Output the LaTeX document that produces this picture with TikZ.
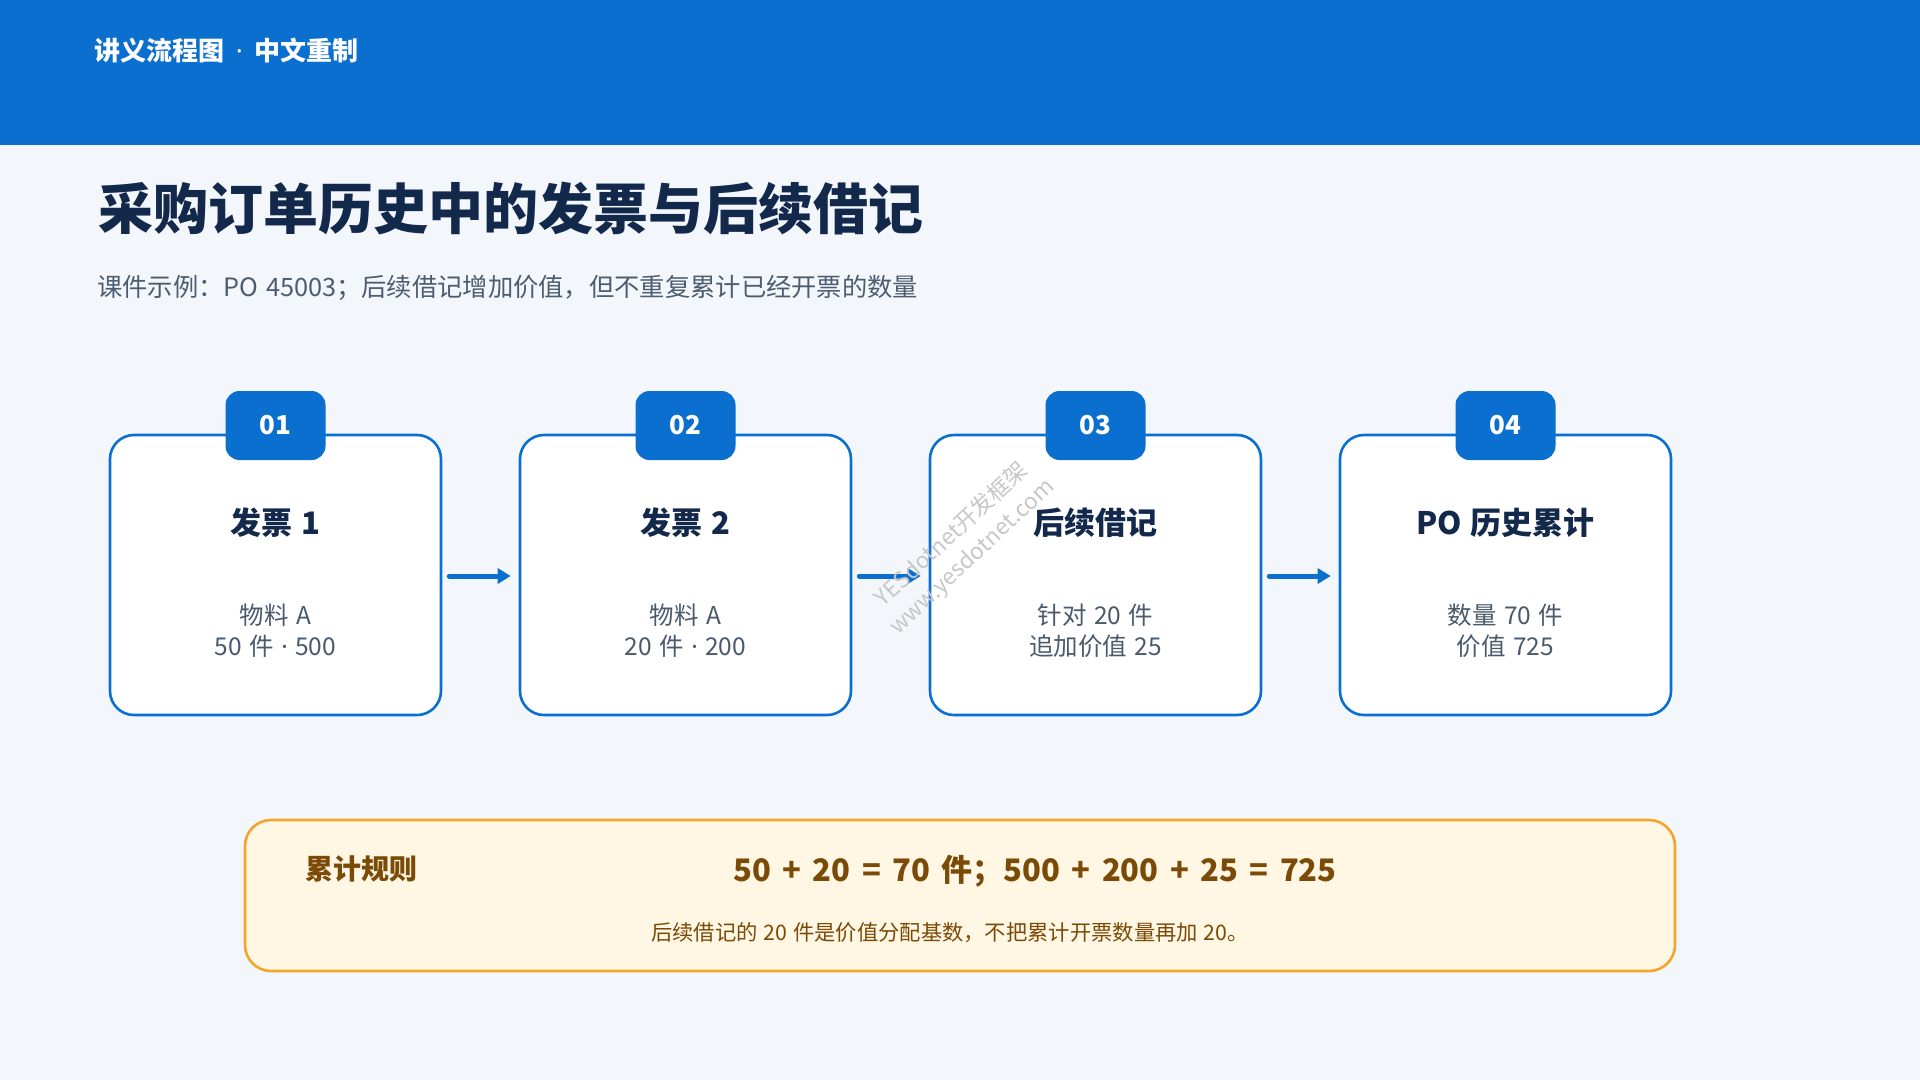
\documentclass[tikz,border=0pt]{standalone}
\usepackage{fontspec}
\setmainfont{Noto Sans CJK SC}
\newfontfamily\latinf{Noto Sans}
\usetikzlibrary{arrows.meta}
\definecolor{hdr}{HTML}{0B6FD0}
\definecolor{bgc}{HTML}{F3F6FB}
\definecolor{navy}{HTML}{13294B}
\definecolor{subc}{HTML}{4D5D70}
\definecolor{bodyc}{HTML}{4A5A6C}
\definecolor{notefill}{HTML}{FFF6E3}
\definecolor{noteedge}{HTML}{F3A62B}
\definecolor{brownc}{HTML}{7A4A06}
\newcommand{\fs}[1]{\fontsize{#1}{40}\selectfont}
\newcommand{\sps}[1]{\spaceskip=#1\relax}
\newcommand{\mdot}{{\latinf ·}}
\tikzset{
  card/.style={draw=hdr, line width=2.6pt, fill=white, rounded corners=24pt,
    minimum width=331pt, minimum height=280pt, inner sep=0pt},
  badge/.style={fill=hdr, rounded corners=14pt, minimum width=100pt,
    minimum height=69pt, inner sep=0pt, text=white, font=\fs{26}\bfseries},
  ctitle/.style={text=navy, font=\fs{31}\bfseries\sps{0.3em}, inner sep=0pt},
  cbody/.style={text=bodyc, font=\fontsize{24.5}{31}\selectfont\sps{0.3em}, align=center, inner sep=0pt},
  flow/.style={draw=hdr, line width=5pt, line cap=round,
    -{Triangle[length=13pt,width=15pt]}},
  notebox/.style={draw=noteedge, line width=2.6pt, fill=notefill, rounded corners=26pt,
    minimum width=1430pt, minimum height=151pt, inner sep=0pt},
}
\begin{document}
\begin{tikzpicture}[x=1pt,y=-1pt]
\useasboundingbox (0,0) rectangle (1920,1080);
\fill[bgc] (0,0) rectangle (1920,1080);
\fill[hdr] (0,0) rectangle (1920,145);
\node[anchor=west, text=white, font=\fs{26}\bfseries\sps{0.45em}, inner sep=0pt] (hd) at (94,51) {讲义流程图 \mdot{} 中文重制};
\node[anchor=west, text=navy, font=\fs{55}\bfseries, inner sep=0pt] (ttl) at (98,208) {采购订单历史中的发票与后续借记};
\node[anchor=west, text=subc, font=\fs{25.3}\sps{0.3em}, inner sep=0pt] (stl) at (97,288) {课件示例：PO 45003；后续借记增加价值，但不重复累计已经开票的数量};

% cards
\node[card] (c1) at (275.5,575) {};
\node[card] (c2) at (685.5,575) {};
\node[card] (c3) at (1095.5,575) {};
\node[card] (c4) at (1505.5,575) {};

\node[badge] (b1) at (275.5,425.5) {01};
\node[badge] (b2) at (685.5,425.5) {02};
\node[badge] (b3) at (1095.5,425.5) {03};
\node[badge] (b4) at (1505.5,425.5) {04};

\node[ctitle] (t1) at (275.5,523) {发票 1};
\node[ctitle] (t2) at (685.5,523) {发票 2};
\node[ctitle] (t3) at (1095.5,523) {后续借记};
\node[ctitle] (t4) at (1505.5,523) {PO 历史累计};

\node[cbody] (d1) at (275.5,631) {物料 A\\50 件 \mdot{} 500};
\node[cbody] (d2) at (685.5,631) {物料 A\\20 件 \mdot{} 200};
\node[cbody] (d3) at (1095.5,631) {针对 20 件\\追加价值 25};
\node[cbody] (d4) at (1505.5,631) {数量 70 件\\价值 725};

\draw[flow] ([xshift=7pt,yshift=-1pt]c1.east) -- ([xshift=-8pt,yshift=-1pt]c2.west);
\draw[flow] ([xshift=7pt,yshift=-1pt]c2.east) -- ([xshift=-8pt,yshift=-1pt]c3.west);
\draw[flow] ([xshift=7pt,yshift=-1pt]c3.east) -- ([xshift=-8pt,yshift=-1pt]c4.west);

% note box
\node[notebox] (nb) at (960,895.5) {};
\node[anchor=west, text=brownc, font=\fs{28}\bfseries, inner sep=0pt] (nl) at (305,869) {累计规则};
\node[text=brownc, font=\fs{31}\bfseries\sps{0.37em}, inner sep=0pt] (nf) at (1035,871) {50 + 20 = 70 件；500 + 200 + 25 = 725};
\node[text=brownc, font=\fs{21.3}\sps{0.28em}, inner sep=0pt] (nt) at (950,933) {后续借记的 20 件是价值分配基数，不把累计开票数量再加 20。};

% watermark
\node[rotate=43, text=black!22, font=\fontsize{22.5}{30}\selectfont, align=center, inner sep=0pt] (wm) at (962,546) {YESdotnet开发框架\\www.yesdotnet.com};
\end{tikzpicture}
\end{document}
